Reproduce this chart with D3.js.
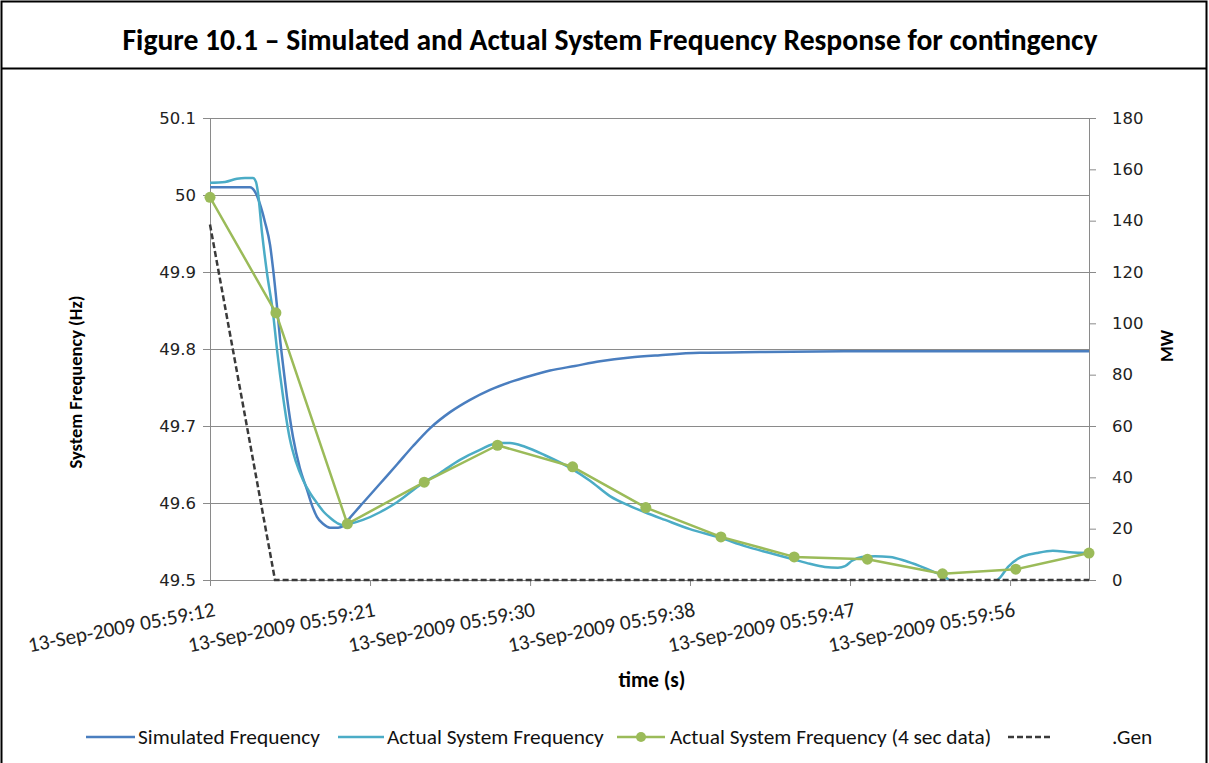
<!DOCTYPE html>
<html><head><meta charset="utf-8">
<script src="https://cdn.jsdelivr.net/npm/d3@7"></script>
<style>body{margin:0;background:#fff}</style></head>
<body>
<svg id="c" width="1209" height="763"></svg>
<script>
// ---------- data ----------
const titleText = "Figure 10.1 \u2013 Simulated and Actual System Frequency Response for contingency";
const freqTicks = [49.5, 49.6, 49.7, 49.8, 49.9, 50, 50.1];
const mwTicks = [0, 20, 40, 60, 80, 100, 120, 140, 160, 180];
const timeTickSeconds = [12, 20.74, 29.48, 38.21, 46.95, 55.69];
const timeTickLabels = ["13-Sep-2009 05:59:12", "13-Sep-2009 05:59:21", "13-Sep-2009 05:59:30",
                        "13-Sep-2009 05:59:38", "13-Sep-2009 05:59:47", "13-Sep-2009 05:59:56"];
const seriesNames = ["Simulated Frequency", "Actual System Frequency",
                     "Actual System Frequency (4 sec data)", ".Gen"];

const simTime = [12.00,14.18,14.46,14.73,15.00,15.28,15.44,15.66,15.82,15.99,16.20,16.53,16.91,17.30,17.57,17.84,18.17,18.55,18.99,19.26,19.65,20.35,21.28,22.21,23.09,24.01,25.11,26.20,27.29,28.38,29.47,30.57,31.93,33.30,34.94,36.57,38.76,42.03,46.95,60.00];
const simFreq = [50.010,50.010,50.004,49.988,49.965,49.935,49.905,49.855,49.814,49.779,49.738,49.686,49.645,49.617,49.597,49.582,49.573,49.568,49.568,49.570,49.581,49.600,49.625,49.650,49.674,49.697,49.718,49.734,49.747,49.757,49.765,49.772,49.778,49.784,49.789,49.792,49.795,49.796,49.797,49.797];

const actTime = [12.00,12.82,13.47,13.91,14.35,14.51,14.62,14.84,15.11,15.44,15.66,15.99,16.37,16.70,17.08,17.46,17.84,18.23,18.55,18.94,19.26,19.65,20.35,21.28,22.21,23.63,24.56,25.65,26.74,27.73,28.38,29.20,30.29,31.71,32.75,33.84,34.94,35.75,36.85,38.21,39.85,41.21,42.58,43.84,44.76,45.58,46.29,46.68,47.06,47.60,48.31,49.13,49.95,50.77,51.59,52.14,52.68,54.59,55.14,55.58,56.23,57.16,58.03,58.96,60.00];
const actFreq = [50.016,50.017,50.021,50.022,50.022,50.017,50.003,49.951,49.899,49.847,49.799,49.738,49.682,49.653,49.630,49.613,49.600,49.588,49.581,49.574,49.571,49.573,49.578,49.588,49.601,49.626,49.639,49.656,49.669,49.678,49.678,49.673,49.662,49.645,49.629,49.609,49.596,49.588,49.578,49.566,49.555,49.544,49.535,49.527,49.521,49.517,49.516,49.518,49.525,49.530,49.531,49.530,49.525,49.518,49.510,49.504,49.495,49.495,49.503,49.517,49.529,49.535,49.538,49.536,49.535];

const act4Time = [12.0, 15.6, 19.5, 23.7, 27.7, 31.8, 35.8, 39.9, 43.9, 47.9, 52.0, 56.0, 60.0];
const act4Freq = [49.997, 49.847, 49.573, 49.627, 49.675, 49.647, 49.594, 49.556, 49.530, 49.527, 49.508, 49.514, 49.535];

const genTime = [12.0, 15.55, 60.0];
const genMW = [138.5, 0, 0];

// ---------- drawing ----------
(function draw() {
const svg = d3.select("#c");
const calibri = "Carlito, Lato, 'Open Sans', sans-serif";
const verdana = "'DejaVu Sans', Verdana, sans-serif";
const colSim = "#4a7ebf", colAct = "#4bacc6", colAct4 = "#9bbb59", colGen = "#3a3a3a", colGrid = "#8a8a8a";

function fit(sel, w) {
  const L = sel.node().getComputedTextLength();
  const fs = parseFloat(sel.attr("font-size"));
  sel.attr("font-size", fs * w / L);
  return fs * w / L;
}

// frame
svg.append("rect").attr("width", 1209).attr("height", 763).attr("fill", "#fff");
svg.append("path").attr("d", "M1.5,763 V1.5 H1206.5 V763 M1.5,68.5 H1206.5")
  .attr("fill", "none").attr("stroke", "#000").attr("stroke-width", 2);

const title = svg.append("text").attr("x", 610).attr("y", 50).attr("text-anchor", "middle")
  .attr("font-family", calibri).attr("font-weight", "bold").attr("font-size", 24).attr("fill", "#000").text(titleText);
fit(title, 975);

const pL = 210, pR = 1089, pT = 118, pB = 580;
const x = d3.scaleLinear().domain([12, 60]).range([pL, pR]);
const yF = d3.scaleLinear().domain([49.5, 50.1]).range([pB, pT]);
const yM = d3.scaleLinear().domain([0, 180]).range([pB, pT]);

// gridlines
svg.append("g").selectAll("line").data(freqTicks).join("line")
  .attr("x1", pL).attr("x2", pR).attr("y1", d => Math.round(yF(d)) + 0.5).attr("y2", d => Math.round(yF(d)) + 0.5)
  .attr("stroke", colGrid).attr("stroke-width", 1);

// left axis
const gL = svg.append("g").attr("transform", `translate(${pL},0)`)
  .call(d3.axisLeft(yF).tickValues(freqTicks).tickSize(7).tickPadding(7).tickFormat(d => String(+d.toFixed(1))));
gL.select(".domain").attr("stroke", colGrid);
gL.selectAll(".tick line").attr("stroke", colGrid);
gL.selectAll("text").attr("font-family", verdana).attr("font-size", 16.5).attr("fill", "#222");

// right axis
const gR = svg.append("g").attr("transform", `translate(${pR},0)`)
  .call(d3.axisRight(yM).tickValues(mwTicks).tickSize(7).tickPadding(16));
gR.select(".domain").attr("stroke", colGrid);
gR.selectAll(".tick line").attr("stroke", colGrid);
gR.selectAll("text").attr("font-family", verdana).attr("font-size", 16.5).attr("fill", "#222");

// bottom axis
const gB = svg.append("g").attr("transform", `translate(0,${pB})`)
  .call(d3.axisBottom(x).tickValues(timeTickSeconds).tickSize(6).tickFormat(""));
gB.select(".domain").attr("stroke", colGrid).attr("d", `M${pL},0.5H${pR}`);
gB.selectAll(".tick line").attr("stroke", colGrid);

const tl = svg.append("g").selectAll("text").data(timeTickSeconds).join("text")
  .attr("transform", d => `translate(${x(d) + 6},616) rotate(-11)`)
  .attr("text-anchor", "end").attr("font-family", calibri).attr("font-size", 16).attr("fill", "#222")
  .text((d, i) => timeTickLabels[i]);
const tfs = fit(d3.select(tl.nodes()[0]), 190);
tl.attr("font-size", tfs);

// axis titles
const yt = svg.append("text").attr("text-anchor", "middle")
  .attr("dominant-baseline", "central").attr("font-family", calibri).attr("font-weight", "bold")
  .attr("font-size", 19).attr("fill", "#000").text("System Frequency (Hz)");
const ys = 173 / yt.node().getComputedTextLength();
yt.attr("transform", `translate(75,382) rotate(-90) scale(${ys},1)`);
svg.append("text").attr("transform", "translate(1167,346) rotate(-90)").attr("text-anchor", "middle")
  .attr("dominant-baseline", "central").attr("font-family", calibri).attr("font-weight", "bold")
  .attr("font-size", 18).attr("fill", "#000").text("MW");
const xt = svg.append("text").attr("x", 652).attr("y", 680).attr("text-anchor", "middle")
  .attr("dominant-baseline", "central").attr("font-family", calibri).attr("font-weight", "bold")
  .attr("font-size", 16).attr("fill", "#000").text("time (s)");
fit(xt, 67);

// series
svg.append("clipPath").attr("id", "pa").append("rect")
  .attr("x", pL).attr("y", pT - 10).attr("width", pR - pL + 1).attr("height", pB - pT + 10);
const plot = svg.append("g").attr("clip-path", "url(#pa)");

const lineF = d3.line().x(d => x(d[0])).y(d => yF(d[1])).curve(d3.curveMonotoneX);
const lineF4 = d3.line().x(d => x(d[0])).y(d => yF(d[1]));
const lineM = d3.line().x(d => x(d[0])).y(d => yM(d[1]));

plot.append("path").datum(simTime.map((t, i) => [t, simFreq[i]])).attr("d", lineF)
  .attr("fill", "none").attr("stroke", colSim).attr("stroke-width", 2.5).attr("stroke-linejoin", "round");
plot.append("path").datum(actTime.map((t, i) => [t, actFreq[i]])).attr("d", lineF)
  .attr("fill", "none").attr("stroke", colAct).attr("stroke-width", 2.5).attr("stroke-linejoin", "round");
const a4 = act4Time.map((t, i) => [t, act4Freq[i]]);
plot.append("path").datum(a4).attr("d", lineF4)
  .attr("fill", "none").attr("stroke", colAct4).attr("stroke-width", 2.5).attr("stroke-linejoin", "round");
svg.append("g").selectAll("circle").data(a4).join("circle")
  .attr("cx", d => x(d[0])).attr("cy", d => yF(d[1])).attr("r", 5.5).attr("fill", colAct4);
svg.append("path").datum(genTime.map((t, i) => [t, genMW[i]])).attr("d", lineM)
  .attr("fill", "none").attr("stroke", colGen).attr("stroke-width", 2.5).attr("stroke-dasharray", "6,3");

// legend
const ly = 737;
const leg = svg.append("g");
leg.append("line").attr("x1", 86).attr("x2", 135).attr("y1", ly).attr("y2", ly).attr("stroke", colSim).attr("stroke-width", 2.5);
leg.append("line").attr("x1", 338).attr("x2", 384).attr("y1", ly).attr("y2", ly).attr("stroke", colAct).attr("stroke-width", 2.5);
leg.append("line").attr("x1", 617).attr("x2", 665).attr("y1", ly).attr("y2", ly).attr("stroke", colAct4).attr("stroke-width", 2.5);
leg.append("circle").attr("cx", 641).attr("cy", ly).attr("r", 5).attr("fill", colAct4);
leg.append("line").attr("x1", 1008).attr("x2", 1053).attr("y1", ly).attr("y2", ly).attr("stroke", colGen).attr("stroke-width", 2.5).attr("stroke-dasharray", "6,3");
const legX = [138, 387, 670, 1112];
const lt = leg.selectAll("text.l").data(seriesNames).join("text").attr("class", "l")
  .attr("x", (d, i) => legX[i]).attr("y", ly).attr("dominant-baseline", "central")
  .attr("font-family", calibri).attr("font-size", 16).attr("fill", "#111").text(d => d);
const lfs = fit(d3.select(lt.nodes()[0]), 182);
lt.attr("font-size", lfs);
})();
</script>
</body></html>
